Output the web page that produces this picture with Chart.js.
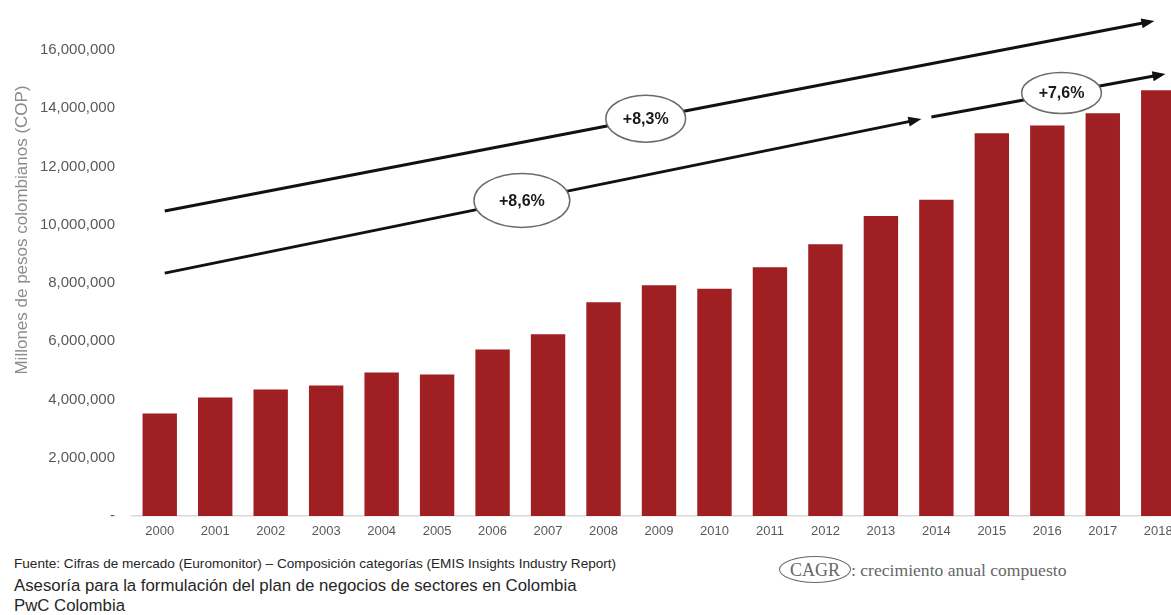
<!DOCTYPE html>
<html>
<head>
<meta charset="utf-8">
<script src="https://cdn.jsdelivr.net/npm/chart.js@4.4.0/dist/chart.umd.min.js"></script>
<style>
  html, body { margin: 0; padding: 0; background: #fff; overflow: hidden; }
  body { width: 1171px; height: 615px; position: relative; font-family: "Liberation Sans", Arial, sans-serif; }
  #wrap { position: absolute; left: 0; top: 0; width: 1200px; height: 546px; }
  .note { position: absolute; left: 14px; color: #262626; white-space: nowrap; }
  #fuente { top: 556px; font-size: 13.6px; }
  #asesoria { top: 576px; font-size: 16.8px; }
  #pwc { top: 596px; font-size: 16.8px; }
  #cagr { position: absolute; left: 779px; top: 556px; height: 28px; font-family: "Liberation Serif", "DejaVu Serif", serif; color: #666; font-size: 17.6px; white-space: nowrap; }
  #cagr .oval { display: inline-block; border: 1.5px solid #666; border-radius: 50%; padding: 3px 10px 2px 10px; line-height: 20px; font-size: 18px; }
</style>
</head>
<body>
<div id="wrap"><canvas id="ventas"></canvas></div>
<div class="note" id="fuente">Fuente: Cifras de mercado (Euromonitor) – Composición categorías (EMIS Insights Industry Report)</div>
<div class="note" id="asesoria">Asesoría para la formulación del plan de negocios de sectores en Colombia</div>
<div class="note" id="pwc">PwC Colombia</div>
<div id="cagr"><span class="oval">CAGR</span>: crecimiento anual compuesto</div>
<script>
// --- Data ---
const years = ['2000', '2001', '2002', '2003', '2004', '2005', '2006', '2007', '2008', '2009',
               '2010', '2011', '2012', '2013', '2014', '2015', '2016', '2017', '2018'];
const ventas = [3520000, 4070000, 4340000, 4480000, 4930000, 4860000, 5720000, 6240000, 7340000, 7920000,
                7800000, 8540000, 9330000, 10300000, 10860000, 13140000, 13410000, 13830000, 14620000];
const yTicks = [0, 2000000, 4000000, 6000000, 8000000, 10000000, 12000000, 14000000, 16000000];

// CAGR trend arrows: [category index, value] at each end, label sits part way along
const cagrLabels = ['+8,3%', '+8,6%', '+7,6%'];
const cagrFrom = [[0.09, 10470000], [0.09, 8340000], [13.91, 13700000]];
const cagrTo = [[17.93, 17000000], [13.73, 13630000], [18.13, 15180000]];
const cagrLabelAt = [0.486, 0.472, 0.556];

const barColor = '#a01f22';
const tickColor = '#595959';

// --- Plugins ---
const axisTitle = {
    id: 'axisTitle',
    afterDraw(chart) {
        const ctx = chart.ctx;
        ctx.save();
        ctx.translate(22, 230);
        ctx.rotate(-Math.PI / 2);
        ctx.font = '17px "Liberation Sans", Arial, sans-serif';
        ctx.fillStyle = '#8c8c8c';
        ctx.textAlign = 'center';
        ctx.textBaseline = 'middle';
        ctx.fillText('Millones de pesos colombianos (COP)', 0, 0);
        ctx.restore();
    }
};

const cagrArrows = {
    id: 'cagrArrows',
    afterDatasetsDraw(chart) {
        const ctx = chart.ctx;
        const xs = chart.scales.x, ys = chart.scales.y;
        const px = p => [xs.getPixelForValue(p[0]), ys.getPixelForValue(p[1])];
        ctx.save();
        cagrLabels.forEach((label, i) => {
            const [x1, y1] = px(cagrFrom[i]);
            const [x2, y2] = px(cagrTo[i]);
            const ang = Math.atan2(y2 - y1, x2 - x1);
            const head = 13;
            // shaft
            ctx.strokeStyle = '#111';
            ctx.lineWidth = 3;
            ctx.beginPath();
            ctx.moveTo(x1, y1);
            ctx.lineTo(x2 - head * 0.8 * Math.cos(ang), y2 - head * 0.8 * Math.sin(ang));
            ctx.stroke();
            // arrow head
            ctx.fillStyle = '#111';
            ctx.beginPath();
            ctx.moveTo(x2, y2);
            ctx.lineTo(x2 - head * Math.cos(ang) + 5 * Math.sin(ang), y2 - head * Math.sin(ang) - 5 * Math.cos(ang));
            ctx.lineTo(x2 - head * Math.cos(ang) - 5 * Math.sin(ang), y2 - head * Math.sin(ang) + 5 * Math.cos(ang));
            ctx.closePath();
            ctx.fill();
            // label oval
            const t = cagrLabelAt[i];
            const cx = x1 + (x2 - x1) * t, cy = y1 + (y2 - y1) * t;
            ctx.font = 'bold 16px "Liberation Sans", Arial, sans-serif';
            const rx = ctx.measureText(label).width / 2 + 17;
            const ry = i === 1 ? 27 : (i === 0 ? 23.5 : 20.5);
            ctx.beginPath();
            ctx.ellipse(cx, cy, i === 1 ? rx + 8 : rx, ry, 0, 0, Math.PI * 2);
            ctx.fillStyle = '#fff';
            ctx.fill();
            ctx.strokeStyle = '#6b6b6b';
            ctx.lineWidth = 1.5;
            ctx.stroke();
            ctx.fillStyle = '#1a1a1a';
            ctx.textAlign = 'center';
            ctx.textBaseline = 'middle';
            ctx.fillText(label, cx, cy + 1);
        });
        ctx.restore();
    }
};

// --- Chart ---
new Chart(document.getElementById('ventas'), {
    type: 'bar',
    data: {
        labels: years,
        datasets: [{
            data: ventas,
            backgroundColor: barColor,
            borderWidth: 0,
            barPercentage: 0.62,
            categoryPercentage: 1.0
        }]
    },
    options: {
        responsive: true,
        maintainAspectRatio: false,
        animation: false,
        events: [],
        layout: { padding: { top: 50, right: 14, left: 0, bottom: 0 } },
        plugins: {
            legend: { display: false },
            tooltip: { enabled: false }
        },
        scales: {
            x: {
                grid: { display: false, drawTicks: false },
                border: { color: '#d9d9d9', width: 1.5 },
                ticks: {
                    color: tickColor,
                    font: { family: '"Liberation Sans", Arial, sans-serif', size: 13 },
                    padding: 8,
                    maxRotation: 0,
                    autoSkip: false
                },
                afterFit(scale) { scale.height = 30; }
            },
            y: {
                min: 0,
                max: 16000000,
                grid: { display: false, drawTicks: false },
                border: { display: false },
                afterBuildTicks(scale) { scale.ticks = yTicks.map(v => ({ value: v })); },
                ticks: {
                    color: tickColor,
                    font: { family: '"Liberation Sans", Arial, sans-serif', size: 15 },
                    padding: 17,
                    callback: v => v === 0 ? '-' : v.toLocaleString('en-US')
                },
                afterFit(scale) { scale.width = 132; }
            }
        }
    },
    plugins: [axisTitle, cagrArrows]
});
</script>
</body>
</html>
